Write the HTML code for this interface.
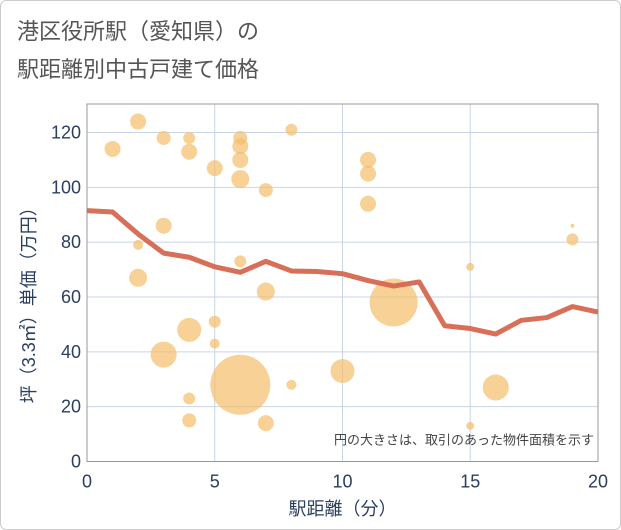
<!DOCTYPE html>
<html><head><meta charset="utf-8"><style>
html,body{margin:0;padding:0;background:#fff;}
#wrap{position:relative;width:619px;height:528px;border:1px solid #ccc;border-radius:6px;overflow:hidden;font-family:"Liberation Sans","Noto Sans CJK JP",sans-serif;}
#title{position:absolute;left:16px;top:12px;font-size:22px;line-height:38px;color:#555;}
svg{position:absolute;left:0;top:0;}
</style></head><body>
<div id="wrap">
<div id="title">港区役所駅（愛知県）の<br>駅距離別中古戸建て価格</div>
<svg id="chart" width="621" height="530"></svg>
</div>
<script>
const xTicks=[0,5,10,15,20];
const yTicks=[0,20,40,60,80,100,120];
const bubbleX=[1,2,3,4,4,5,6,6,6,6,7,8,11,11,11,3,2,19,19,6,2,15,7,12,5,4,5,3,6,10,8,16,4,4,7,15];
const bubbleY=[114,124,118,118,113,107,118,115,110,103,99,121,110,105,94,86,79,86,81,73,67,71,62,58,51,48,43,39,28,33,28,27,23,15,14,13];
const bubbleArea=[64,64,49,36,64,64,49,64,64,81,49,36,64,64,64,64,25,4,36,36,81,16,81,576,36,144,25,169,900,144,25,169,36,49,64,16];
const lineX=[0,1,2,3,4,5,6,7,8,9,10,11,12,13,14,15,16,17,18,19,20];
const lineY=[91.5,91,83,76,74.5,71,69,73,69.5,69.3,68.5,66,64,65.5,49.5,48.5,46.5,51.5,52.5,56.5,54.5];

const L=86,R=597,T=103,B=460.5;
const sx=v=>L+(v-0)/(20-0)*(R-L);
const yv=v=>B-(v/120)*(B-131.5);
const NS="http://www.w3.org/2000/svg";
const svg=document.getElementById('chart');
function mk(t,a){const e=document.createElementNS(NS,t);for(const k in a)e.setAttribute(k,a[k]);svg.appendChild(e);return e;}
xTicks.forEach(t=>{
 const g=mk('line',{x1:sx(t),x2:sx(t),y1:T,y2:B,stroke:'#c9d5e6','stroke-width':1});
 
 
 const tx=mk('text',{x:sx(t),y:B+26,'text-anchor':'middle','font-size':18,fill:'#2a3f5f'});
 tx.textContent=t;
 
 
});
yTicks.forEach(t=>{
 const g=mk('line',{x1:L,x2:R,y1:yv(t),y2:yv(t),stroke:'#c9d5e6','stroke-width':1});
 
 
 const tx=mk('text',{x:L-6,y:yv(t)+6,'text-anchor':'end','font-size':18,fill:'#2a3f5f'});
 tx.textContent=t;
 
 
});
const fr=mk('rect',{x:L,y:T,width:R-L,height:B-T,fill:'none',stroke:'#999','stroke-width':1});


bubbleX.forEach((x,i)=>{
 const c=mk('circle',{cx:sx(x),cy:yv(bubbleY[i]),r:Math.sqrt(bubbleArea[i]),fill:'rgba(243,189,106,0.7)'});
 
 
});
const p=mk('polyline',{points:lineX.map((x,i)=>sx(x)+','+yv(lineY[i])).join(' '),fill:'none',stroke:'#d6674f','stroke-width':5,'stroke-linejoin':'round','stroke-opacity':0.95});


const note=mk('text',{x:R-4,y:B-17,'text-anchor':'end','font-size':13,fill:'#444'});
note.textContent='円の大きさは、取引のあった物件面積を示す';


const xt=mk('text',{x:(L+R)/2,y:514,'text-anchor':'middle','font-size':18,fill:'#2a3f5f'});
xt.textContent='駅距離（分）';


const yt=mk('text',{x:0,y:0,'text-anchor':'middle','font-size':18,fill:'#2a3f5f',transform:'translate(34,'+((T+B)/2+18)+') rotate(-90)'});
yt.textContent='坪（3.3㎡）単価（万円）';


</script>
</body></html>
